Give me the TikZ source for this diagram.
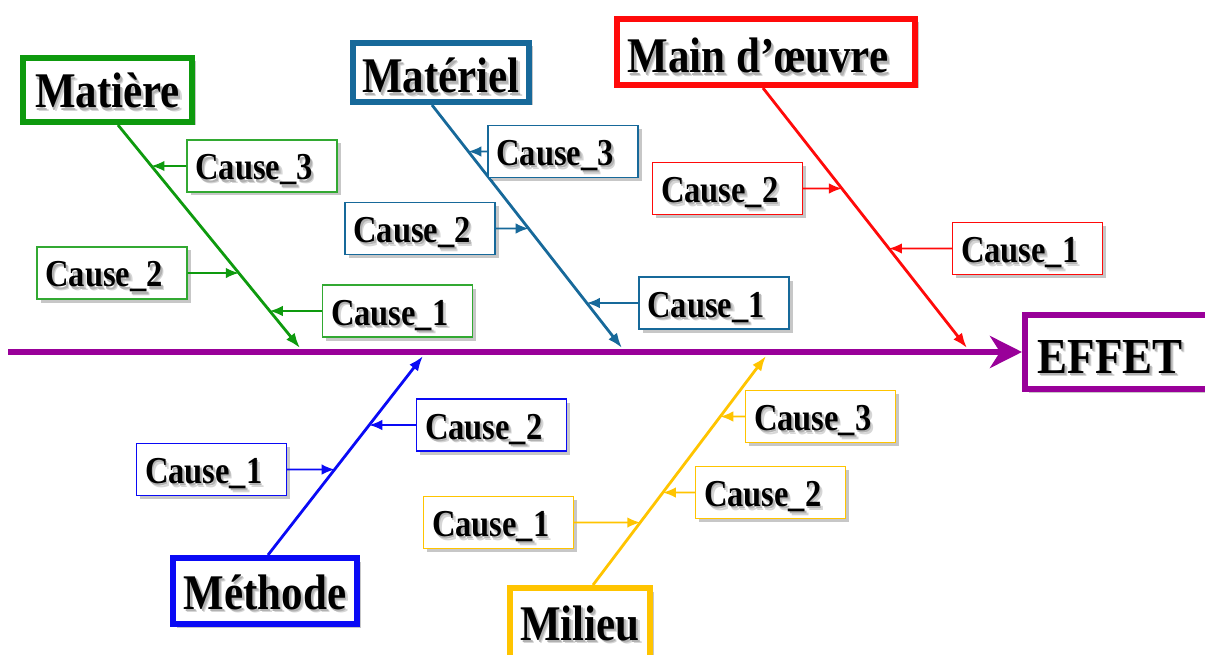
\documentclass[tikz,border=0pt]{standalone}
\usepackage{fontspec}
\usepackage{graphicx}
\setmainfont{Liberation Serif}
\usetikzlibrary{arrows.meta,shadows,calc}

\definecolor{cgreen}{HTML}{0E9A0E}
\definecolor{cteal}{HTML}{17699A}
\definecolor{cred}{HTML}{FF0A0A}
\definecolor{cblue}{HTML}{0A0AF5}
\definecolor{cgold}{HTML}{FFC400}
\definecolor{cpurple}{HTML}{990099}

% soft grey shadow under the lettering
\newcommand\softshadow[1]{%
  \makebox[0pt][l]{\hspace{3.2pt}\raisebox{-3.2pt}{\color{black!16}#1}}%
  \makebox[0pt][l]{\hspace{1.8pt}\raisebox{-1.8pt}{\color{black!30}#1}}#1}
\newcommand\headtxt[1]{\scalebox{1}[1.16]{\softshadow{#1}}}
\newcommand\causetxt[1]{\scalebox{1}[1.17]{\softshadow{#1}}}

\tikzset{
  boxshadow/.style={drop shadow={shadow xshift=3.5pt, shadow yshift=-3.5pt, opacity=0.22, fill=black}},
  head/.style={draw=#1, line width=6pt, fill=white, inner sep=0pt, boxshadow,
    text depth=0pt, font=\fontsize{43}{43}\selectfont\bfseries},
  cause/.style={draw=#1, line width=1.4pt, fill=white, inner sep=0pt, boxshadow,
    minimum width=150pt, minimum height=52pt, text width=133pt, align=left,
    text height=28pt, text depth=0pt,
    font=\fontsize{32.5}{32.5}\selectfont\bfseries},
  bone/.style={draw=#1, line width=2.8pt, -{Latex[length=15pt,width=11pt]}},
  twig/.style={draw=#1, line width=1.6pt, -{Latex[length=13pt,width=10.5pt]}},
  spine/.style={draw=cpurple, line width=6pt, -{Stealth[length=32pt,width=32pt,inset=10pt]}},
}

\begin{document}
\begin{tikzpicture}[x=1pt,y=-1pt]
\useasboundingbox (0,0) rectangle (1205,655);

% head boxes
\node[head=cgreen, minimum width=169pt, minimum height=64pt, text height=36pt] (mat) at (107.5,90) {\headtxt{Matière}};
\node[head=cteal, minimum width=176pt, minimum height=59pt, text height=41pt] (mtl) at (441,72.5) {\headtxt{Matériel}};
\node[head=cred, minimum width=298pt, minimum height=66pt, text height=42pt] (mo) at (766,52) {\headtxt{Main d’œuvre}\hspace*{16pt}};
\node[head=cblue, minimum width=184pt, minimum height=66pt, text height=36pt] (meth) at (265,591) {\headtxt{Méthode}};
\node[head=cgold, minimum width=140pt, minimum height=71pt, text height=33pt] (mil) at (580,623.5) {\headtxt{Milieu}};
\node[head=cpurple, minimum width=186pt, minimum height=74pt, text height=42pt,
      font=\fontsize{45}{45}\selectfont\bfseries] (effet) at (1118,352) {\scalebox{1}[1.12]{\softshadow{EFFET}}\hspace*{16pt}};

% spine
\coordinate (tail) at (8,352);
\draw[spine] (tail) -- (effet.west);

% bone end points
\coordinate (matS) at ([xshift=10.5pt]mat.south);
\coordinate (matE) at (300,348);
\coordinate (mtlS) at ([xshift=-9pt]mtl.south);
\coordinate (mtlE) at (622,348);
\coordinate (moS) at ([xshift=-3pt]mo.south);
\coordinate (moE) at (967,348);
\coordinate (methS) at ([xshift=3pt]meth.north);
\coordinate (methE) at (423,356);
\coordinate (milS) at ([xshift=13pt]mil.north);
\coordinate (milE) at (766,356);

\draw[bone=cgreen] (matS) -- (matE);
\draw[bone=cteal] (mtlS) -- (mtlE);
\draw[bone=cred] (moS) -- (moE);
\draw[bone=cblue] (methS) -- (methE);
\draw[bone=cgold] (milS) -- (milE);

% causes: Matière
\node[cause=cgreen!85!white] (g3) at (262,166) {\causetxt{Cause\_3}};
\node[cause=cgreen!85!white] (g2) at (112,273) {\causetxt{Cause\_2}};
\node[cause=cgreen!85!white] (g1) at (397.5,311) {\causetxt{Cause\_1}};
\draw[twig=cgreen] (g3.west) -- (intersection of matS--matE and g3.west--g3.east);
\draw[twig=cgreen] (g2.east) -- (intersection of matS--matE and g2.west--g2.east);
\draw[twig=cgreen] (g1.west) -- (intersection of matS--matE and g1.west--g1.east);

% causes: Matériel
\node[cause=cteal] (t3) at (563,151.5) {\causetxt{Cause\_3}};
\node[cause=cteal] (t2) at (420,228.5) {\causetxt{Cause\_2}};
\node[cause=cteal] (t1) at (714,303) {\causetxt{Cause\_1}};
\draw[twig=cteal] (t3.west) -- (intersection of mtlS--mtlE and t3.west--t3.east);
\draw[twig=cteal] (t2.east) -- (intersection of mtlS--mtlE and t2.west--t2.east);
\draw[twig=cteal] (t1.west) -- (intersection of mtlS--mtlE and t1.west--t1.east);

% causes: Main d'oeuvre
\node[cause=cred] (r2) at (727.5,188.5) {\causetxt{Cause\_2}};
\node[cause=cred] (r1) at (1027.5,248.5) {\causetxt{Cause\_1}};
\draw[twig=cred] (r2.east) -- (intersection of moS--moE and r2.west--r2.east);
\draw[twig=cred] (r1.west) -- (intersection of moS--moE and r1.west--r1.east);

% causes: Méthode
\node[cause=cblue] (b1) at (211.5,469.5) {\causetxt{Cause\_1}};
\node[cause=cblue] (b2) at (491.5,425) {\causetxt{Cause\_2}};
\draw[twig=cblue] (b1.east) -- (intersection of methS--methE and b1.west--b1.east);
\draw[twig=cblue] (b2.west) -- (intersection of methS--methE and b2.west--b2.east);

% causes: Milieu
\node[cause=cgold] (y3) at (820.5,416.5) {\causetxt{Cause\_3}};
\node[cause=cgold] (y2) at (770.5,492.5) {\causetxt{Cause\_2}};
\node[cause=cgold] (y1) at (498.5,522.5) {\causetxt{Cause\_1}};
\draw[twig=cgold] (y3.west) -- (intersection of milS--milE and y3.west--y3.east);
\draw[twig=cgold] (y2.west) -- (intersection of milS--milE and y2.west--y2.east);
\draw[twig=cgold] (y1.east) -- (intersection of milS--milE and y1.west--y1.east);
\end{tikzpicture}
\end{document}
